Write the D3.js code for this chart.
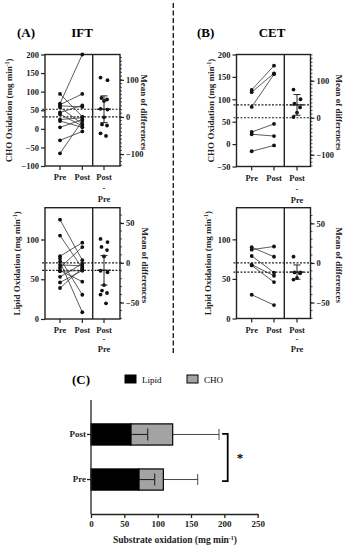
<!DOCTYPE html>
<html>
<head>
<meta charset="utf-8">
<script src="https://cdn.jsdelivr.net/npm/d3@7"></script>
<style>
  body { margin: 0; background: #fff; }
  svg { display: block; color: #222; font-family: "Liberation Serif", "Times New Roman", serif; font-weight: bold; }
</style>
</head>
<body>
<div id="chart"></div>
<script>
const width = 347;
const height = 550;

// IFT - CHO oxidation (mg/min), paired pre/post + estimation column
const iftChoPre  = [68, 94, 65, 62, 58, 44, 39, 25, 21, 4, -31, -66];
const iftChoPost = [200, 33, 94, 59, 13, 63, 8, 30, 4, 25, -7, 21];
const iftChoDiff = [106, 99, 51, 47, 43, 22, 20, -1, -20, -23, -44, -51];
const iftChoCI = 36;

// CET - CHO oxidation
const cetChoPre  = [121, 116, 83, 27, 22, -16];
const cetChoPost = [175, 158, 156, 45, 18, -3];
const cetChoDiff = [76, 50, 38, 28, 14, 2];
const cetChoCI = 28;

// IFT - lipid oxidation
const iftLipPre  = [125, 105, 79, 76, 72, 68, 64.5, 61, 53, 46, 39, 60];
const iftLipPost = [74, 64, 96, 30.5, 8.5, 67, 90.5, 47, 69.5, 61, 64, 61];
const iftLipDiff = [30, 26, 20, 16, 8, -10, -12, -28, -35, -38, -40, -51];
const iftLipCI = 18.5;

// CET - lipid oxidation
const cetLipPre  = [87, 90, 79, 68, 67, 30];
const cetLipPost = [91, 78, 58, 54, 46, 17];
const cetLipDiff = [8, -12, -12, -13, -19, -21];
const cetLipCI = 9;

// (C) stacked bars
const groups = ["Post", "Pre"];
const lipidMean = [60, 72];
const choMean = [62.5, 36.5];
const lipidErr = [25, 23.5];
const choErr = [69.5, 51.5];
const barTicks = [0, 50, 100, 150, 200, 250];

const ink = "#222";

const svg = d3.select("#chart")
    .append("svg")
    .attr("width", width)
    .attr("height", height);

// dashed separator between IFT and CET
svg.append("line")
    .attr("x1", 173.3).attr("x2", 173.3)
    .attr("y1", 3).attr("y2", 355)
    .attr("stroke", ink)
    .attr("stroke-width", 1.4)
    .attr("stroke-dasharray", "5 2.5");

// panel headings
svg.append("text").attr("x", 17).attr("y", 37).attr("font-size", 13).text("(A)");
svg.append("text").attr("x", 82).attr("y", 37).attr("font-size", 13).attr("text-anchor", "middle").text("IFT");
svg.append("text").attr("x", 197).attr("y", 37).attr("font-size", 13).text("(B)");
svg.append("text").attr("x", 272).attr("y", 37).attr("font-size", 13).attr("text-anchor", "middle").text("CET");

const panels = [
    { x0: 45, xPre: 60, xPost: 82.3, xDiv: 92.7, xDiff: 104, x1: 120,
      yTop: 54.5, yBot: 166, domain: [-100, 200], ticks: d3.range(-100, 201, 50),
      rightTicks: [-100, 0, 100], rightK: null,
      pre: iftChoPre, post: iftChoPost, diff: iftChoDiff, ci: iftChoCI,
      label: "CHO Oxidation", titleX: 9, rTitleX: 144, lab: [14, 25, 36] },
    { x0: 236.5, xPre: 251.7, xPost: 274, xDiv: 284.3, xDiff: 297, x1: 310.5,
      yTop: 54.5, yBot: 166.5, domain: [-50, 200], ticks: d3.range(-50, 201, 50),
      rightTicks: [-100, 0, 100], rightK: 0.37,
      pre: cetChoPre, post: cetChoPost, diff: cetChoDiff, ci: cetChoCI,
      label: "CHO Oxidation", titleX: 211, rTitleX: 339, lab: [14, 25, 36] },
    { x0: 45, xPre: 60, xPost: 82.3, xDiv: 92.7, xDiff: 104, x1: 120,
      yTop: 207.7, yBot: 319, domain: [0, 140], ticks: [0, 50, 100],
      rightTicks: [-50, 0, 50], rightK: null,
      pre: iftLipPre, post: iftLipPost, diff: iftLipDiff, ci: iftLipCI,
      label: "Lipid Oxidation", titleX: 16.5, rTitleX: 145, lab: [14, 23, 33] },
    { x0: 236.5, xPre: 251.7, xPost: 274, xDiv: 284.3, xDiff: 297, x1: 310.5,
      yTop: 207.7, yBot: 318.5, domain: [0, 140], ticks: [0, 50, 100],
      rightTicks: [-50, 0, 50], rightK: null,
      pre: cetLipPre, post: cetLipPost, diff: cetLipDiff, ci: cetLipCI,
      label: "Lipid Oxidation", titleX: 207.5, rTitleX: 339, lab: [14, 23, 33] }
];

panels.forEach(p => drawPanel(p));

function drawPanel(p) {
    const g = svg.append("g");
    const y = d3.scaleLinear().domain(p.domain).range([p.yBot, p.yTop]);
    const k = p.rightK || (p.yBot - p.yTop) / (p.domain[1] - p.domain[0]);
    const y0 = y(d3.mean(p.pre));
    const yr = d3.scaleLinear()
        .domain([(y0 - p.yBot) / k, (y0 - p.yTop) / k])
        .range([p.yBot, p.yTop]);
    const diffMean = d3.mean(p.diff);

    // dotted mean lines
    [0, diffMean].forEach(v => {
        g.append("line")
            .attr("x1", p.x0 - 3).attr("x2", p.x1)
            .attr("y1", yr(v)).attr("y2", yr(v))
            .attr("stroke", ink).attr("stroke-width", 1.2)
            .attr("stroke-dasharray", "2 1.5");
    });

    // frame
    g.append("rect")
        .attr("x", p.x0).attr("y", p.yTop)
        .attr("width", p.x1 - p.x0).attr("height", p.yBot - p.yTop)
        .attr("fill", "none").attr("stroke", ink).attr("stroke-width", 1.4);
    g.append("line")
        .attr("x1", p.xDiv).attr("x2", p.xDiv)
        .attr("y1", p.yTop).attr("y2", p.yBot)
        .attr("stroke", ink).attr("stroke-width", 1.4);

    // left axis
    const la = g.append("g")
        .attr("transform", `translate(${p.x0},0)`)
        .call(d3.axisLeft(y).tickValues(p.ticks).tickSize(4).tickSizeOuter(0).tickPadding(2));
    la.select(".domain").remove();

    // right axis + minor ticks
    const ra = g.append("g")
        .attr("transform", `translate(${p.x1},0)`)
        .call(d3.axisRight(yr).tickValues(p.rightTicks).tickSize(4).tickSizeOuter(0).tickPadding(2));
    ra.select(".domain").remove();
    const [lo, hi] = yr.domain();
    g.selectAll(".minor")
        .data(d3.range(Math.ceil(lo / 10) * 10, hi, 10))
        .enter().append("line")
        .attr("x1", p.x1).attr("x2", p.x1 + 2)
        .attr("y1", d => yr(d)).attr("y2", d => yr(d))
        .attr("stroke", ink).attr("stroke-width", 0.8);

    [la, ra].forEach(a => {
        a.attr("color", ink);
        a.selectAll("line").attr("stroke", ink).attr("stroke-width", 1.2);
        a.selectAll("text").attr("font-size", 8.5).attr("font-family", "Liberation Serif").attr("fill", ink);
    });

    // bottom ticks and labels
    [p.xPre, p.xPost, p.xDiff].forEach(x => {
        g.append("line").attr("x1", x).attr("x2", x)
            .attr("y1", p.yBot).attr("y2", p.yBot + 4)
            .attr("stroke", ink).attr("stroke-width", 1.2);
    });
    const lbl = (x, dy, t) => g.append("text")
        .attr("x", x).attr("y", p.yBot + dy)
        .attr("text-anchor", "middle").attr("font-size", 8.5).attr("fill", ink).text(t);
    lbl(p.xPre, p.lab[0], "Pre");
    lbl(p.xPost, p.lab[0], "Post");
    lbl(p.xDiff, p.lab[0], "Post");
    lbl(p.xDiff, p.lab[1], "-");
    lbl(p.xDiff, p.lab[2], "Pre");

    // paired lines
    g.selectAll(".pair")
        .data(p.pre.map((d, i) => [d, p.post[i]]))
        .enter().append("line")
        .attr("x1", p.xPre).attr("x2", p.xPost)
        .attr("y1", d => y(d[0])).attr("y2", d => y(d[1]))
        .attr("stroke", "#333").attr("stroke-width", 0.8);

    g.selectAll(".pt")
        .data(p.pre.map(d => [p.xPre, d]).concat(p.post.map(d => [p.xPost, d])))
        .enter().append("circle")
        .attr("cx", d => d[0]).attr("cy", d => y(d[1]))
        .attr("r", 1.9).attr("fill", "#111");

    // estimation column
    const offs = [-3.5, 3.5, -2.5, 3, 0, -3.5, 3.5, 0, -2, 3, -3.5, 2];
    g.selectAll(".dp")
        .data(p.diff)
        .enter().append("circle")
        .attr("cx", (d, i) => p.xDiff + offs[i % offs.length])
        .attr("cy", d => yr(d))
        .attr("r", 1.9).attr("fill", "#111");

    g.append("line")
        .attr("x1", p.xDiff - 7).attr("x2", p.xDiff + 7)
        .attr("y1", yr(diffMean)).attr("y2", yr(diffMean))
        .attr("stroke", ink).attr("stroke-width", 1.3);
    g.append("line")
        .attr("x1", p.xDiff).attr("x2", p.xDiff)
        .attr("y1", yr(diffMean + p.ci)).attr("y2", yr(diffMean - p.ci))
        .attr("stroke", ink).attr("stroke-width", 1);
    [diffMean + p.ci, diffMean - p.ci].forEach(v => {
        g.append("line")
            .attr("x1", p.xDiff - 3.5).attr("x2", p.xDiff + 3.5)
            .attr("y1", yr(v)).attr("y2", yr(v))
            .attr("stroke", ink).attr("stroke-width", 1);
    });

    // axis titles
    const lt = g.append("text")
        .attr("transform", `translate(${p.titleX},${(p.yTop + p.yBot) / 2}) rotate(-90)`)
        .attr("dy", "0.35em")
        .attr("text-anchor", "middle").attr("font-size", 9).attr("fill", ink);
    lt.append("tspan").text(p.label + " (mg min");
    lt.append("tspan").attr("baseline-shift", "super").attr("font-size", 6).text("-1");
    lt.append("tspan").text(")");

    g.append("text")
        .attr("transform", `translate(${p.rTitleX},${(p.yTop + p.yBot) / 2 + 2}) rotate(90)`)
        .attr("dy", "0.35em")
        .attr("text-anchor", "middle").attr("font-size", 9).attr("fill", ink)
        .text("Mean of differences");
}

// ---- (C) stacked bar chart ----
svg.append("text").attr("x", 81).attr("y", 384).attr("font-size", 13)
    .attr("text-anchor", "middle").text("(C)");

const legend = [
    { label: "Lipid", color: "#000", x: 125 },
    { label: "CHO", color: "#a3a3a3", x: 187 }
];
legend.forEach(l => {
    svg.append("rect").attr("x", l.x).attr("y", 375)
        .attr("width", 11).attr("height", 8)
        .attr("fill", l.color).attr("stroke", "#000").attr("stroke-width", 1);
    svg.append("text").attr("x", l.x + 17).attr("y", 382.5)
        .attr("font-size", 9).attr("font-weight", "normal").text(l.label);
});

const xb = d3.scaleLinear().domain([0, 250]).range([91, 257.7]);
const yb = d3.scaleBand().domain(groups).range([400, 514]).padding(0.53);
const bw = yb.bandwidth();

const bars = groups.map((gname, i) => ({
    g: gname, lipid: lipidMean[i], cho: choMean[i], le: lipidErr[i], ce: choErr[i]
}));

// CHO error bars (behind)
bars.forEach(b => {
    const cy = yb(b.g) + bw / 2;
    svg.append("line").attr("x1", xb(b.lipid + b.cho)).attr("x2", xb(b.lipid + b.cho + b.ce))
        .attr("y1", cy).attr("y2", cy).attr("stroke", "#333").attr("stroke-width", 0.9);
    svg.append("line").attr("x1", xb(b.lipid + b.cho + b.ce)).attr("x2", xb(b.lipid + b.cho + b.ce))
        .attr("y1", cy - 5.5).attr("y2", cy + 5.5).attr("stroke", "#333").attr("stroke-width", 0.9);
});

svg.selectAll(".lipBar")
    .data(bars).enter().append("rect")
    .attr("x", xb(0)).attr("y", d => yb(d.g))
    .attr("width", d => xb(d.lipid) - xb(0)).attr("height", bw)
    .attr("fill", "#000").attr("stroke", "#000").attr("stroke-width", 1.2);

svg.selectAll(".choBar")
    .data(bars).enter().append("rect")
    .attr("x", d => xb(d.lipid)).attr("y", d => yb(d.g))
    .attr("width", d => xb(d.lipid + d.cho) - xb(d.lipid)).attr("height", bw)
    .attr("fill", "#a3a3a3").attr("stroke", "#000").attr("stroke-width", 1.2);

// lipid error bars (drawn over gray)
bars.forEach(b => {
    const cy = yb(b.g) + bw / 2;
    svg.append("line").attr("x1", xb(b.lipid)).attr("x2", xb(b.lipid + b.le))
        .attr("y1", cy).attr("y2", cy).attr("stroke", "#222").attr("stroke-width", 1.1);
    svg.append("line").attr("x1", xb(b.lipid + b.le)).attr("x2", xb(b.lipid + b.le))
        .attr("y1", cy - 6).attr("y2", cy + 6).attr("stroke", "#222").attr("stroke-width", 1.1);
});

// axes
const xAxisG = svg.append("g")
    .attr("transform", "translate(0,514)")
    .call(d3.axisBottom(xb).tickValues(barTicks).tickSize(4).tickSizeOuter(0).tickPadding(3));
const yAxisG = svg.append("g")
    .attr("transform", `translate(${xb(0)},0)`)
    .call(d3.axisLeft(yb).tickSize(4).tickSizeOuter(0).tickPadding(1));
yAxisG.select(".domain").attr("d", "M0,400V514");

[xAxisG, yAxisG].forEach(a => {
    a.attr("color", ink);
    a.selectAll("line, .domain").attr("stroke", ink).attr("stroke-width", 1.3);
    a.selectAll("text").attr("font-size", 9).attr("font-family", "Liberation Serif").attr("fill", ink);
});

const xt = svg.append("text").attr("x", 175).attr("y", 543)
    .attr("text-anchor", "middle").attr("font-size", 9.5).attr("fill", ink);
xt.append("tspan").text("Substrate oxidation (mg min");
xt.append("tspan").attr("baseline-shift", "super").attr("font-size", 6).text("-1");
xt.append("tspan").text(")");

// significance bracket
const topY = yb("Post") + bw / 2 - 0.5;
const botY = yb("Pre") + bw / 2 + 1.5;
svg.append("path")
    .attr("d", `M${xb(205) - 5.6},${topY}H${xb(205)}V${botY}H${xb(205) - 5.6}`)
    .attr("fill", "none").attr("stroke", "#000").attr("stroke-width", 1.8);
svg.append("text").attr("x", 240).attr("y", 462).attr("text-anchor", "middle")
    .attr("font-size", 13).text("*");
</script>
</body>
</html>
